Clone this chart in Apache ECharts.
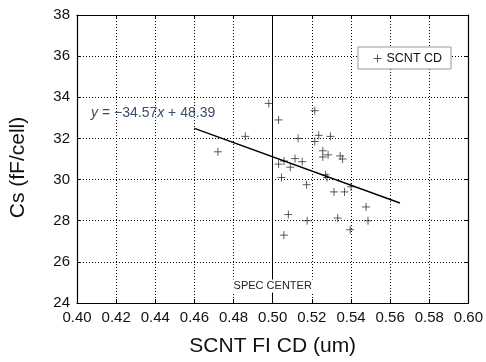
<!DOCTYPE html>
<html>
<head>
<meta charset="utf-8">
<script src="https://cdn.jsdelivr.net/npm/echarts/dist/echarts.min.js"></script>
<style>
  html, body { margin: 0; padding: 0; background: #fff; }
  #chart { width: 486px; height: 362px; }
</style>
</head>
<body>
<div id="chart"></div>
<script>
// SCNT FI CD (um) vs Cs (fF/cell)
const cdValues = [
  0.498, 0.5215, 0.503, 0.486, 0.472, 0.513, 0.5235, 0.5295, 0.5215,
  0.5256, 0.5283, 0.5256, 0.5345, 0.5357, 0.503, 0.5058, 0.5114, 0.5151,
  0.509, 0.5045, 0.527, 0.5278, 0.5173, 0.5313, 0.5367, 0.540, 0.5477,
  0.508, 0.5176, 0.5332, 0.5487, 0.5396, 0.5057
];
const csValues = [
  33.7, 33.35, 32.9, 32.1, 31.35, 32.0, 32.15, 32.1, 31.85,
  31.4, 31.2, 31.1, 31.15, 31.0, 30.75, 30.9, 31.02, 30.87,
  30.6, 30.1, 30.23, 30.1, 29.75, 29.4, 29.4, 29.65, 28.67,
  28.3, 28.0, 28.13, 28.0, 27.56, 27.3
];
// fitted line end points (y = -34.57x + 48.39)
const fitX = [0.46, 0.565];
const fitY = [32.49, 28.86];
const specCenter = 0.50;

const font = 'Liberation Sans, Arial, sans-serif';
const plus = 'path://M0,4L8,4M4,0L4,8';

const chartDom = document.getElementById('chart');
const myChart = echarts.init(chartDom);

const axisLine = { show: true, lineStyle: { color: '#000', width: 1.2 } };
const tick = { show: true, inside: true, length: 4, lineStyle: { color: '#000' } };
const grid = { show: true, lineStyle: { color: '#000', type: [1, 2], width: 1 } };

const option = {
  animation: false,
  textStyle: { fontFamily: font },
  grid: { left: 76, right: 15, top: 15, bottom: 58 },
  legend: {
    left: 358, top: 47,
    padding: [5, 9, 4, 15],
    backgroundColor: '#fff',
    borderColor: '#999',
    borderWidth: 1,
    itemWidth: 8, itemHeight: 8,
    data: [{ name: 'SCNT CD', icon: plus }],
    itemStyle: { color: 'transparent', borderColor: '#333', borderWidth: 1 },
    textStyle: { fontFamily: font, fontSize: 12.5, color: '#111' }
  },
  xAxis: [
    {
      type: 'value', min: 0.4, max: 0.6, interval: 0.02,
      name: 'SCNT FI CD (um)', nameLocation: 'middle', nameGap: 33,
      nameTextStyle: { fontFamily: font, fontSize: 21, color: '#111' },
      axisLine: axisLine, axisTick: tick, splitLine: grid,
      axisLabel: {
        fontFamily: font, fontSize: 15, color: '#111', margin: 7,
        formatter: v => v.toFixed(2)
      }
    },
    {
      type: 'value', position: 'top', min: 0.4, max: 0.6, interval: 0.02,
      axisLine: axisLine, axisTick: tick, splitLine: { show: false },
      axisLabel: { show: false }
    }
  ],
  yAxis: [
    {
      type: 'value', min: 24, max: 38, interval: 2,
      name: 'Cs (fF/cell)', nameLocation: 'middle', nameGap: 48,
      nameTextStyle: { fontFamily: font, fontSize: 21, color: '#111', padding: [0, 17, 0, 0] },
      axisLine: axisLine, axisTick: tick, splitLine: grid,
      axisLabel: { fontFamily: font, fontSize: 15, color: '#111', margin: 7 }
    },
    {
      type: 'value', position: 'right', min: 24, max: 38, interval: 2,
      axisLine: axisLine, axisTick: tick, splitLine: { show: false },
      axisLabel: { show: false }
    }
  ],
  series: [
    {
      name: 'SCNT CD',
      type: 'scatter',
      symbol: plus,
      symbolSize: 8,
      itemStyle: { color: 'transparent', borderColor: '#333', borderWidth: 1 },
      data: cdValues.map((x, i) => [x, csValues[i]]),
      markLine: {
        silent: true,
        symbol: 'none',
        label: { show: false },
        lineStyle: { color: '#000', type: 'solid', width: 1 },
        data: [{ xAxis: specCenter }]
      },
      markPoint: {
        silent: true,
        symbolSize: 0,
        label: {
          show: true,
          formatter: 'SPEC CENTER',
          fontFamily: font, fontSize: 11, color: '#222',
          backgroundColor: '#fff', padding: [1, 2]
        },
        data: [{ coord: [specCenter, 24.83] }]
      }
    },
    {
      name: 'fit',
      type: 'line',
      symbol: 'none',
      lineStyle: { color: '#000', width: 1.5 },
      data: fitX.map((x, i) => [x, fitY[i]]),
      markPoint: {
        silent: true,
        symbolSize: 0,
        label: {
          show: true,
          formatter: '{i|y} = \u221234.57{i|x} + 48.39',
          fontFamily: font, fontSize: 14, color: '#3b4d6e',
          rich: { i: { fontStyle: 'italic', fontFamily: font, fontSize: 14, color: '#3b4d6e' } }
        },
        data: [{ coord: [0.4389, 33.25] }]
      }
    }
  ]
};

option && myChart.setOption(option);
</script>
</body>
</html>
